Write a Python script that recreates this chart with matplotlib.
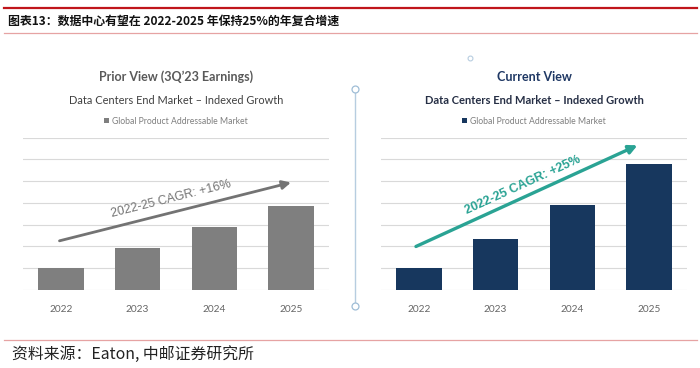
import numpy as np
import matplotlib
matplotlib.use("Agg")
from matplotlib import pyplot as plt
from matplotlib.lines import Line2D

plt.rcParams['font.family'] = ['Lato', 'DejaVu Sans']

years = ['2022', '2023', '2024', '2025']
prior_vals = [1.0, 1.92, 2.9, 3.88]
current_vals = [1.0, 2.35, 3.92, 5.79]
prior_arrow = [(-0.02, 2.26), (3.0, 4.94)]
current_arrow = [(-0.04, 2.0), (2.85, 6.65)]
prior_cagr = "2022-25 CAGR: +16%"
current_cagr = "2022-25 CAGR: +25%"
legend_label = "Global Product Addressable Market"

W, H = 700, 368
fig = plt.figure(figsize=(7, 3.68), dpi=100)
cjk = ['Noto Sans CJK SC', 'DejaVu Sans']

# header / footer
fig.add_artist(Line2D([0.005, 0.995], [1 - 7.5 / H] * 2, color='#c0151b', lw=1.6, transform=fig.transFigure))
fig.add_artist(Line2D([0.005, 0.995], [1 - 33 / H] * 2, color='#e6a3a3', lw=0.9, transform=fig.transFigure))
fig.add_artist(Line2D([0.005, 0.995], [1 - 339.5 / H] * 2, color='#e6a3a3', lw=0.9, transform=fig.transFigure))
fig.text(8 / W, 1 - 21.5 / H, "图表13：数据中心有望在 2022-2025 年保持25%的年复合增速",
         family=cjk, fontsize=8.6, fontweight='bold', color='#111111', va='center', ha='left')
fig.text(12 / W, 1 - 354.5 / H, "资料来源：Eaton, 中邮证券研究所",
         family=cjk, fontsize=11.4, color='#222222', va='center', ha='left')

# divider decoration
fig.add_artist(Line2D([355 / W] * 2, [1 - 89 / H, 1 - 306 / H], color='#b7cde0', lw=1.0,
                      transform=fig.transFigure))
fig.add_artist(Line2D([355 / W, 355 / W], [1 - 89 / H, 1 - 306 / H], ls='none', marker='o', ms=5,
                      mfc='white', mec='#9fbdd6', mew=0.9, transform=fig.transFigure))
fig.add_artist(Line2D([470 / W], [1 - 57.5 / H], ls='none', marker='o', ms=3.5,
                      mfc='white', mec='#b7cde0', mew=0.8, transform=fig.transFigure))


def panel(left_px, vals, color, title, title_color, title_size, sub_weight, sub_color, sub_size,
          arrow, arrow_color, arrow_lw, cagr, cagr_pos, cagr_size, cagr_weight):
    ax = fig.add_axes([left_px / W, 1 - 290 / H, 306.6 / W, (290 - 137.7) / H])
    x = np.arange(len(years))
    ax.bar(x, vals, width=0.59, color=color, label=legend_label, zorder=2)
    ax.set_xlim(-0.5, 3.5)
    ax.set_ylim(0, 7)
    ax.set_yticks(range(0, 8))
    ax.yaxis.grid(True, color='#d9d9d9', lw=0.8, zorder=0)
    ax.tick_params(axis='y', left=False, labelleft=False)
    ax.tick_params(axis='x', bottom=False, labelsize=7.3, colors='#666666', pad=7)
    ax.set_xticks(x)
    ax.set_xticklabels(years)
    for s in ax.spines.values():
        s.set_visible(False)
    ax.set_facecolor('none')

    cx = left_px + 153.3
    fig.text(cx / W, 1 - 77 / H, title, ha='center', va='center', fontsize=title_size,
             fontweight='bold', color=title_color)
    fig.text(cx / W, 1 - 101 / H, "Data Centers End Market \u2013 Indexed Growth", ha='center',
             va='center', fontsize=sub_size, fontweight=sub_weight, color=sub_color)
    leg = ax.legend(loc='center', bbox_to_anchor=(0.5, (290 - 121) / (290 - 137.7)),
                    frameon=False, fontsize=6.2, handlelength=0.6, handleheight=0.6,
                    handletextpad=0.3, borderpad=0)
    for t in leg.get_texts():
        t.set_color('#7f7f7f')

    ax.annotate('', xy=arrow[1], xytext=arrow[0],
                arrowprops=dict(arrowstyle='-|>,head_length=0.5,head_width=0.25',
                                color=arrow_color, lw=arrow_lw, shrinkA=0, shrinkB=0),
                annotation_clip=False)
    p0 = ax.transData.transform(arrow[0])
    p1 = ax.transData.transform(arrow[1])
    ang = np.degrees(np.arctan2(p1[1] - p0[1], p1[0] - p0[0]))
    ax.text(cagr_pos[0], cagr_pos[1], cagr, rotation=ang, rotation_mode='anchor',
            ha='center', va='center', fontsize=cagr_size, fontweight=cagr_weight,
            color=arrow_color, family=['Liberation Sans', 'DejaVu Sans'])
    return ax


panel(22.7, prior_vals, '#7f7f7f', "Prior View (3Q\u201923 Earnings)", '#595959', 9.0, 'normal', '#404040', 7.9,
      prior_arrow, '#737373', 2.0, prior_cagr, (1.43, 4.2), 8.9, 'normal')
panel(380.7, current_vals, '#17375e', "Current View", '#1f3864', 9.0, 'bold', '#262f45', 8.0,
      current_arrow, '#2aa394', 2.4, current_cagr, (1.35, 4.84), 9.0, 'bold')

fig.savefig("out.png", dpi=100)
